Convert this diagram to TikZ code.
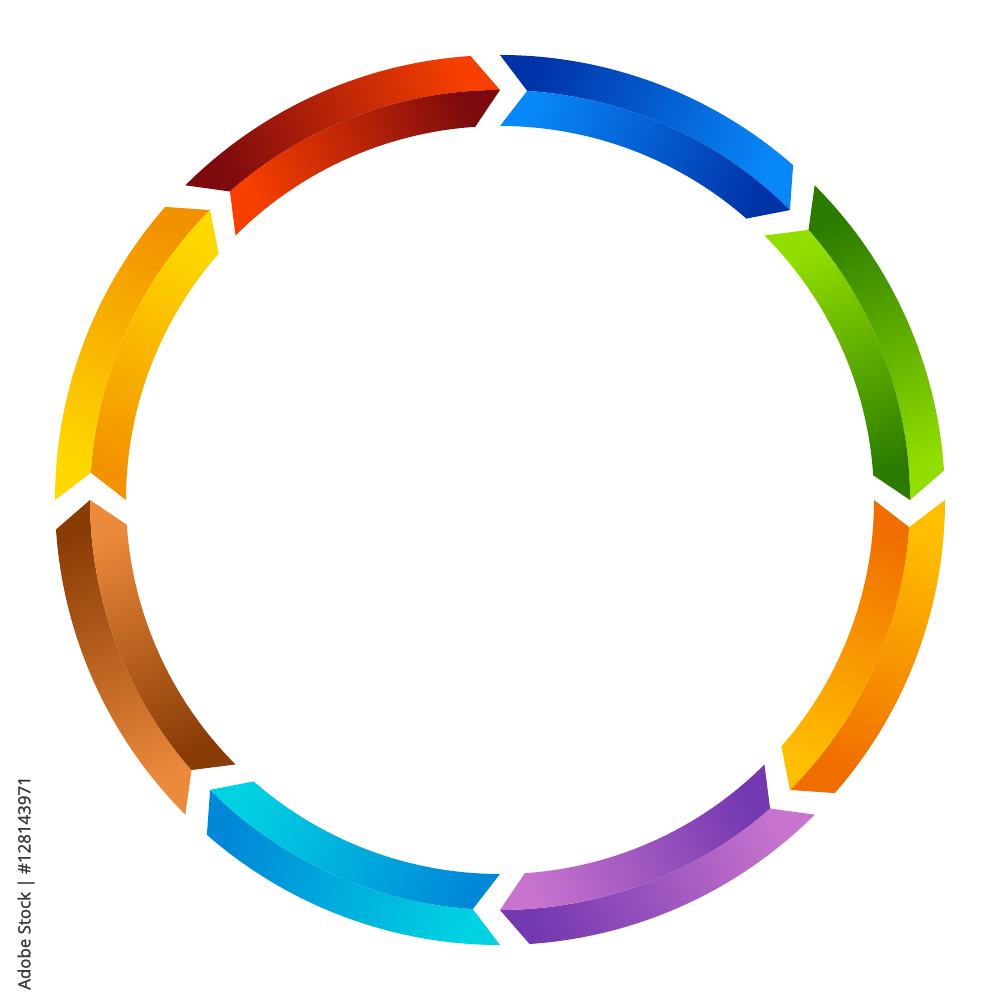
\documentclass[tikz,border=0pt]{standalone}
\usepackage{fontspec}
\setsansfont{Open Sans}
\newfontfamily\stampfont[FakeBold=1.6]{Open Sans}
\usepackage{tikz}
\usetikzlibrary{calc}

% colours of the eight ring segments (dark and light end of each face)
\definecolor{redDark}{HTML}{7D0A0E}
\definecolor{redLight}{HTML}{F73F00}
\definecolor{blueDark}{HTML}{0033A8}
\definecolor{blueLight}{HTML}{0887F8}
\definecolor{greenDark}{HTML}{2A7B00}
\definecolor{greenLight}{HTML}{92DE00}
\definecolor{orangeDark}{HTML}{F06E00}
\definecolor{orangeLight}{HTML}{FFBE00}
\definecolor{purpleDark}{HTML}{7438B0}
\definecolor{purpleLight}{HTML}{C874CE}
\definecolor{cyanDark}{HTML}{0088D8}
\definecolor{cyanLight}{HTML}{00D2E2}
\definecolor{brownDark}{HTML}{8A3C06}
\definecolor{brownLight}{HTML}{EC8A3C}
\definecolor{yellowDark}{HTML}{F39200}
\definecolor{yellowLight}{HTML}{FFD800}
\definecolor{stampGray}{HTML}{383838}

\tikzset{%
	% Specifications for the faces of the ring
	face/.style = {draw=none},
	stamp/.style = {font=\stampfont\fontsize{4.8}{6}\selectfont, text=stampGray,
					rotate=90, inner sep=0pt},
}

% radii: outer edge, ridge, inner edge; chevron depth in degrees
\newcommand{\rOut}{4.45}
\newcommand{\rMid}{4.10}
\newcommand{\rIn}{3.74}
\newcommand{\chev}{3.8}

\begin{document}
\begin{tikzpicture}
	\useasboundingbox (-5,-5) rectangle (5,5);

	% one arrow segment per 45 degrees, running clockwise
	% tail angle / outer face tail, head / inner face tail, head
	\foreach \s/\ot/\oh/\it/\ih in {
		135/redDark/redLight/redLight/redDark,
		90/blueDark/blueLight/blueLight/blueDark,
		45/greenDark/greenLight/greenLight/greenDark,
		0/orangeLight/orangeDark/orangeDark/orangeLight,
		-45/purpleLight/purpleDark/purpleDark/purpleLight,
		-90/cyanLight/cyanDark/cyanDark/cyanLight,
		-135/brownLight/brownDark/brownDark/brownLight,
		180/yellowLight/yellowDark/yellowDark/yellowLight}
	{
		\pgfmathsetmacro{\e}{\s-45}
		\pgfmathsetmacro{\ec}{\e+\chev}
		\pgfmathsetmacro{\sn}{\s-\chev}
		\pgfmathsetmacro{\ang}{\s-202.5}
		% outer face
		\shade[face, bottom color=\ot, top color=\oh, shading angle=\ang]
			(\s:\rOut) arc[start angle=\s, end angle=\ec, radius=\rOut]
			-- (\e:\rMid) arc[start angle=\e, end angle=\sn, radius=\rMid]
			-- cycle;
		% inner face
		\shade[face, bottom color=\it, top color=\ih, shading angle=\ang]
			(\sn:\rMid) arc[start angle=\sn, end angle=\e, radius=\rMid]
			-- (\ec:\rIn) arc[start angle=\ec, end angle=\s, radius=\rIn]
			-- cycle;
	}

	\node (stamp) [stamp] at (-4.74,-3.83) {Adobe Stock | \#128143971};
\end{tikzpicture}
\end{document}
